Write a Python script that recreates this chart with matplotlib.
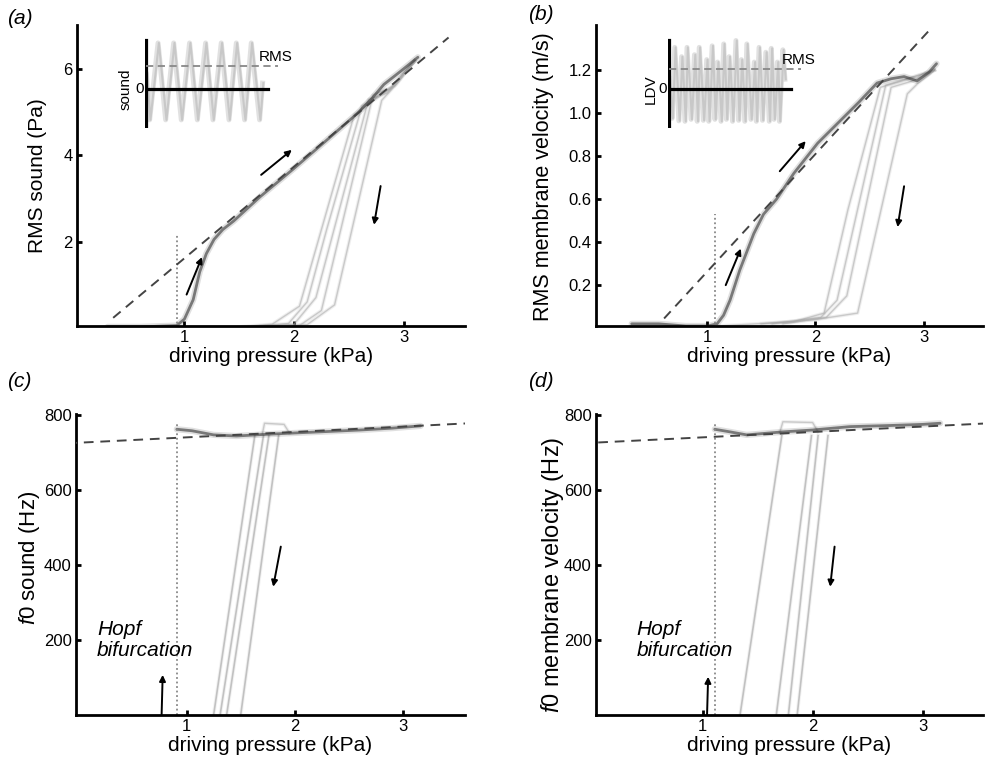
import matplotlib
matplotlib.use('Agg')
import matplotlib.pyplot as plt
from matplotlib.ticker import FixedLocator, FormatStrFormatter

plt.rcParams['font.family'] = ['Liberation Sans', 'DejaVu Sans']
plt.rcParams['mathtext.fontset'] = 'custom'
plt.rcParams['mathtext.rm'] = 'Liberation Sans'
plt.rcParams['mathtext.it'] = 'Liberation Sans:italic'

# ---- panel (a): RMS sound vs driving pressure ----
a_up_x = [0.30, 0.60, 0.93, 1.00, 1.08, 1.14, 1.20, 1.27, 1.35, 1.45, 1.69, 2.00, 2.30, 2.58, 2.72, 2.82, 2.97, 3.13]
a_up_y = [0.02, 0.02, 0.05, 0.20, 0.65, 1.30, 1.72, 2.05, 2.28, 2.48, 3.04, 3.70, 4.36, 4.98, 5.35, 5.65, 5.95, 6.28]
a_down = [
    ([3.10, 2.90, 2.55, 2.05, 1.80, 1.50], [6.20, 5.60, 4.95, 0.50, 0.08, 0.02]),
    ([3.10, 2.88, 2.62, 2.30, 2.12, 1.95, 1.60], [6.20, 5.55, 5.15, 2.30, 0.60, 0.10, 0.02]),
    ([3.10, 2.85, 2.68, 2.20, 2.00, 1.70], [6.20, 5.45, 5.30, 0.70, 0.08, 0.02]),
    ([3.10, 2.92, 2.72, 2.25, 2.05, 1.75], [6.20, 5.62, 5.40, 0.40, 0.05, 0.02]),
    ([3.10, 2.95, 2.80, 2.37, 2.12, 1.70], [6.20, 5.70, 5.28, 0.53, 0.07, 0.03]),
]
a_fit_x = [0.35, 3.41]
a_fit_y = [0.23, 6.74]
a_thresh = 0.93
a_thresh_top = 2.15
a_arrows = [((1.02, 0.77), (1.16, 1.64)), ((1.70, 3.55), (1.98, 4.13)), ((2.79, 3.29), (2.73, 2.39))]

# ---- panel (b): RMS membrane velocity ----
b_up_x = [0.30, 0.55, 0.80, 1.00, 1.09, 1.15, 1.21, 1.30, 1.43, 1.52, 1.64, 1.80, 2.02, 2.20, 2.40, 2.57, 2.70, 2.82, 2.94, 3.05, 3.12]
b_up_y = [0.02, 0.02, 0.01, 0.01, 0.02, 0.06, 0.13, 0.27, 0.44, 0.53, 0.60, 0.72, 0.86, 0.95, 1.05, 1.14, 1.16, 1.17, 1.15, 1.19, 1.23]
b_down = [
    ([3.10, 2.80, 2.60, 2.30, 2.08, 1.80, 1.10], [1.20, 1.15, 1.12, 0.55, 0.07, 0.03, 0.01]),
    ([3.10, 2.85, 2.65, 2.20, 2.05, 1.60], [1.20, 1.16, 1.13, 0.13, 0.05, 0.02]),
    ([3.10, 2.90, 2.70, 2.29, 2.10, 1.70], [1.20, 1.15, 1.12, 0.15, 0.05, 0.02]),
    ([3.10, 2.95, 2.85, 2.39, 2.00, 1.50], [1.20, 1.14, 1.09, 0.07, 0.04, 0.02]),
]
b_fit_x = [0.60, 3.08]
b_fit_y = [0.045, 1.40]
b_thresh = 1.07
b_thresh_top = 0.53
b_arrows = [((1.17, 0.20), (1.31, 0.37)), ((1.67, 0.73), (1.91, 0.87)), ((2.82, 0.66), (2.76, 0.47))]

# ---- panel (c): f0 sound ----
c_top_x = [0.91, 1.05, 1.25, 1.46, 1.70, 1.99, 2.30, 2.60, 2.90, 3.16]
c_top_y = [762, 758, 747, 744, 748, 752, 756, 760, 765, 771]
c_drop_top = [1.63, 1.71, 1.76, 1.85]
c_drop_bot = [1.25, 1.31, 1.37, 1.50]
c_bump_x = [1.70, 1.72, 1.90, 1.95]
c_bump_y = [750, 778, 775, 752]
c_thresh = 0.91
c_hopf_arrow = ((0.77, 0), (0.78, 107))
c_down_arrow = ((1.87, 449), (1.80, 342))
c_hopf_xy = (0.175, 200)

# ---- panel (d): f0 membrane velocity ----
d_top_x = [1.11, 1.25, 1.40, 1.73, 2.00, 2.34, 2.70, 3.00, 3.16]
d_top_y = [762, 755, 747, 755, 760, 769, 772, 775, 778]
d_drop_top = [1.72, 1.99, 2.05, 2.14]
d_drop_bot = [1.34, 1.67, 1.78, 1.86]
d_bump_x = [1.70, 1.73, 2.00, 2.05]
d_bump_y = [752, 782, 780, 755]
d_thresh = 1.11
d_hopf_arrow = ((1.04, 0), (1.05, 102))
d_down_arrow = ((2.20, 449), (2.16, 342))
d_hopf_xy = (0.40, 200)

f0_fit_x = [-0.1, 3.7]
f0_fit_y = [724.6, 779.3]

# ---- inset waveforms (time fraction, amplitude) ----
snd_t = [0.00, 0.024, 0.086, 0.142, 0.201, 0.257, 0.318, 0.375, 0.436, 0.490, 0.551, 0.608, 0.662, 0.723, 0.772, 0.833, 0.855]
snd_v = [0.30, -0.63, 0.94, -0.63, 0.94, -0.63, 0.94, -0.63, 0.94, -0.63, 0.94, -0.63, 0.94, -0.63, 0.94, -0.63, 0.12]
snd_rms = 0.47
ldv_t = [0.00, 0.02, 0.04, 0.07, 0.09, 0.115, 0.13, 0.16, 0.185, 0.205, 0.22, 0.25, 0.275, 0.29,
         0.315, 0.335, 0.355, 0.38, 0.40, 0.42, 0.44, 0.465, 0.49, 0.51, 0.53, 0.555, 0.57, 0.60,
         0.625, 0.64, 0.66, 0.685, 0.71, 0.735, 0.75, 0.77, 0.795, 0.81, 0.835, 0.85]
ldv_v = [0.20, -0.60, 0.85, -0.65, 0.66, -0.66, 0.85, -0.62, 0.70, -0.66, 0.85, -0.64, 0.60, -0.66,
         0.88, -0.62, 0.55, -0.66, 0.92, -0.62, 0.66, -0.66, 0.99, -0.64, 0.60, -0.66, 0.92, -0.62,
         0.55, -0.66, 0.85, -0.64, 0.75, -0.66, 0.83, -0.62, 0.55, -0.66, 0.80, 0.20]
ldv_rms = 0.41

W, H = 990, 766
fig = plt.figure(figsize=(W / 100, H / 100), dpi=100)


def px_axes(l, t, r, b):
    return fig.add_axes([l / W, 1 - b / H, (r - l) / W, (b - t) / H])


def ylab(x, y, text, size):
    fig.text(x / W, 1 - y / H, text, fontsize=size, rotation=90, ha='center', va='center')


def style(ax):
    for s in ['top', 'right']:
        ax.spines[s].set_visible(False)
    for s in ['left', 'bottom']:
        ax.spines[s].set_linewidth(2.0)
    ax.tick_params(direction='in', length=3.5, width=2.0, labelsize=12, pad=3)
    ax.set_xticks([1, 2, 3])
    ax.set_xlabel('driving pressure (kPa)', fontsize=15, labelpad=1)


def smudge(ax, x, y, dark=True):
    if dark:
        ax.plot(x, y, color='#000000', lw=4.5, alpha=0.12, solid_capstyle='round')
        ax.plot(x, y, color='#333333', lw=2.0, alpha=0.6, solid_capstyle='round')
    else:
        ax.plot(x, y, color='#999999', lw=2.6, alpha=0.15)
        ax.plot(x, y, color='#aaaaaa', lw=1.0, alpha=0.55)


def arrow(ax, start, end):
    ax.annotate('', xy=end, xytext=start,
                arrowprops=dict(arrowstyle='-|>', lw=1.4, color='k', mutation_scale=9,
                                shrinkA=0, shrinkB=0))


def fitline(ax, x, y):
    ax.plot(x, y, color='#444444', lw=1.4, dashes=(5, 3.5), zorder=5)


def inset(l, t, trace_t, trace_v, rms, label, xoff):
    # axes spanning x 0..1 (136 px), amplitude 1 unit = 49 px, zero 51 px below top
    ia = fig.add_axes([l / W, 1 - (t + 90) / H, 140 / W, 90 / H])
    ia.set_xlim(-0.01, 1.02)
    ia.set_ylim(-39 / 49, 51 / 49)
    ia.axis('off')
    ia.plot(trace_t, trace_v, color='#c4c4c4', lw=3.6, alpha=0.5)
    ia.plot([t_ + 0.006 for t_ in trace_t], trace_v, color='#aaaaaa', lw=1.5, alpha=0.45)
    ia.plot([0, 0], [-0.78, 1.0], color='k', lw=2.3)
    ia.plot([0, 0.895], [0, 0], color='k', lw=2.3)
    ia.plot([0, 0.97], [rms, rms], color='#888888', lw=1.3, dashes=(4, 2.5))
    ia.text(0.83, rms + 0.04, 'RMS', fontsize=11, ha='left', va='bottom')
    ia.text(-0.02, 0, '0', fontsize=11, ha='right', va='center')
    ia.text(xoff, 0, label, fontsize=11, ha='center', va='center', rotation=90)


# (a)
ax = px_axes(77, 25, 465, 326)
style(ax)
ax.set_xlim(0.02, 3.56)
ax.set_ylim(0.04, 7.03)
ax.yaxis.set_major_locator(FixedLocator([2, 4, 6]))
for dx, dy in a_down:
    smudge(ax, dx, dy, dark=False)
smudge(ax, a_up_x, a_up_y)
fitline(ax, a_fit_x, a_fit_y)
ax.plot([a_thresh, a_thresh], [0, a_thresh_top], color='#888888', lw=1.3, ls=(0, (1, 1.5)))
for s, e in a_arrows:
    arrow(ax, s, e)
ylab(38, 176, 'RMS sound (Pa)', 15)
inset(145, 38, snd_t, snd_v, snd_rms, 'sound', -0.155)

# (b)
ax = px_axes(596, 25, 983, 326)
style(ax)
ax.set_xlim(-0.03, 3.55)
ax.set_ylim(0.01, 1.41)
ax.yaxis.set_major_locator(FixedLocator([0.2, 0.4, 0.6, 0.8, 1.0, 1.2]))
ax.yaxis.set_major_formatter(FormatStrFormatter('%.1f'))
for dx, dy in b_down:
    smudge(ax, dx, dy, dark=False)
smudge(ax, b_up_x, b_up_y)
fitline(ax, b_fit_x, b_fit_y)
ax.plot([b_thresh, b_thresh], [0, b_thresh_top], color='#888888', lw=1.3, ls=(0, (1, 1.5)))
for s, e in b_arrows:
    arrow(ax, s, e)
ylab(543, 177, 'RMS membrane velocity (m/s)', 15.5)
inset(668, 38, ldv_t, ldv_v, ldv_rms, 'LDV', -0.14)


def f0_panel(ax, top_x, top_y, drop_top, drop_bot, bump_x, bump_y, thresh,
             hopf_arrow, down_arrow, hopf_xy):
    style(ax)
    ax.set_ylim(0, 802.7)
    ax.yaxis.set_major_locator(FixedLocator([200, 400, 600, 800]))
    for xt, xb in zip(drop_top, drop_bot):
        ax.plot([xt, xb], [745, 0], color='#aaaaaa', lw=1.2, alpha=0.65)
        ax.plot([xt, xb], [745, 0], color='#999999', lw=2.6, alpha=0.12)
    smudge(ax, bump_x, bump_y, dark=False)
    smudge(ax, top_x, top_y)
    fitline(ax, f0_fit_x, f0_fit_y)
    ax.plot([thresh, thresh], [0, 779], color='#888888', lw=1.3, ls=(0, (1, 1.5)))
    arrow(ax, hopf_arrow[0], hopf_arrow[1])
    arrow(ax, down_arrow[0], down_arrow[1])
    ax.text(hopf_xy[0], hopf_xy[1], 'Hopf\nbifurcation', fontsize=15, style='italic',
            ha='left', va='center', linespacing=1.15)


# (c)
ax = px_axes(76, 414, 465, 715)
ax.set_xlim(-0.02, 3.57)
f0_panel(ax, c_top_x, c_top_y, c_drop_top, c_drop_bot, c_bump_x, c_bump_y, c_thresh,
         c_hopf_arrow, c_down_arrow, c_hopf_xy)
ylab(29, 558, r'$f$0 sound (Hz)', 16)

# (d)
ax = px_axes(596, 414, 983, 715)
ax.set_xlim(0.03, 3.55)
f0_panel(ax, d_top_x, d_top_y, d_drop_top, d_drop_bot, d_bump_x, d_bump_y, d_thresh,
         d_hopf_arrow, d_down_arrow, d_hopf_xy)
ylab(552, 575, r'$f$0 membrane velocity (Hz)', 17)

# panel letters
for lbl, x, y in [('(a)', 7, 19), ('(b)', 528, 15), ('(c)', 7, 382), ('(d)', 528, 382)]:
    fig.text(x / W, 1 - y / H, lbl, fontsize=15, style='italic', ha='left', va='center')

fig.savefig('out.png', dpi=100)
